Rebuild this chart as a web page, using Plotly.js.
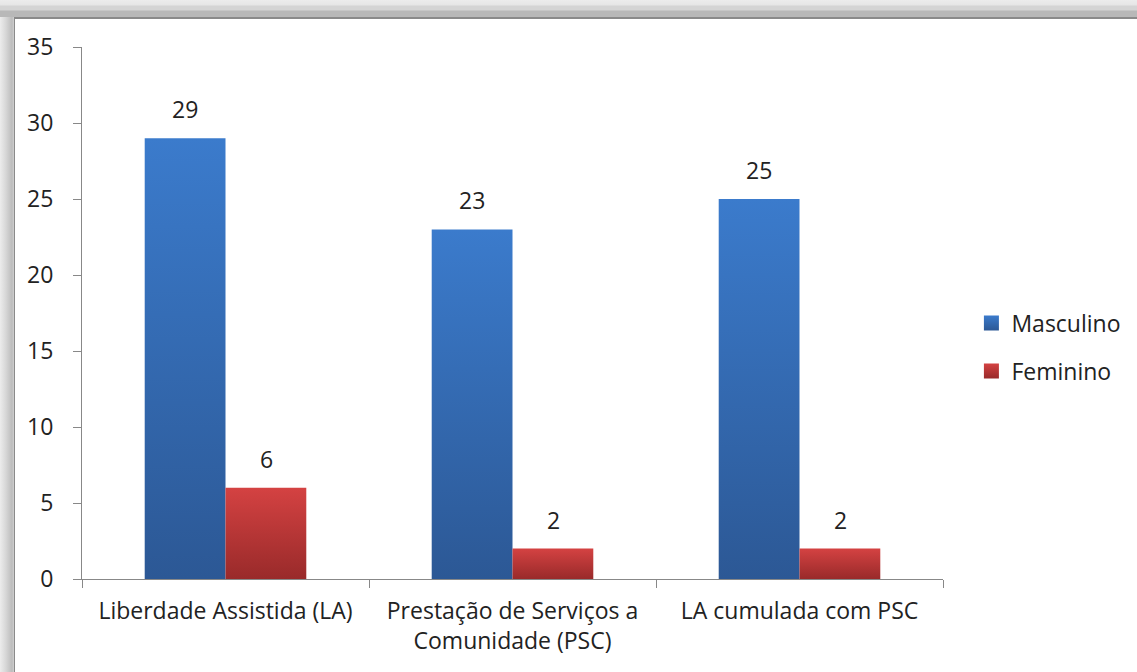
<!DOCTYPE html>
<html>
<head>
<meta charset="utf-8">
<script src="https://cdn.plot.ly/plotly-3.0.1.min.js"></script>
<style>
  body { margin: 0; }
  #frame {
    position: relative; width: 1137px; height: 672px; overflow: hidden;
    background: linear-gradient(to right, #ececec 0px, #d6d6d6 6px, #bcbcbc 12px, #d0d0d0 14px);
  }
  #topband {
    position: absolute; left: 0; top: 0; width: 1137px; height: 17px;
    background: linear-gradient(to bottom, #ececec 0px, #e6e6e6 5px, #d4d4d4 6px, #d4d4d4 10px, #b8b8b8 11px, #b8b8b8 16px);
  }
  #chart {
    position: absolute; left: 14px; top: 17px; width: 1123px; height: 655px;
    background: #fff; border-left: 1px solid #8a8a8a; border-top: 2px solid #8a8a8a;
  }
</style>
</head>
<body>
<div id="frame">
  <div id="topband"></div>
  <div id="chart"></div>
</div>
<script>
const categories = ["Liberdade Assistida (LA)", "Prestação de Serviços a<br>Comunidade (PSC)", "LA cumulada com PSC"];
const masculino = [29, 23, 25];
const feminino = [6, 2, 2];

const font = { family: "Open Sans, sans-serif", size: 23, color: "#222" };

const traceMasc = {
	type: "bar", name: "Masculino", x: categories, y: masculino,
	marker: { color: "#3467ad" }, legendgroup: "m",
};
const traceFem = {
	type: "bar", name: "Feminino", x: categories, y: feminino,
	marker: { color: "#b83535" }, legendgroup: "f",
};

// value labels above each bar
const labels = [];
categories.forEach((c, i) => {
	labels.push({ x: c, y: masculino[i], text: String(masculino[i]), xshift: -40.5 });
	labels.push({ x: c, y: feminino[i], text: String(feminino[i]), xshift: 40.5 });
});
const annotations = labels.map((a) => ({
	...a, xref: "x", yref: "y", showarrow: false, yanchor: "bottom", yshift: 11, font: font,
}));

const layout = {
	width: 1123, height: 653,
	margin: { l: 67, r: 189, t: 28, b: 93 },
	paper_bgcolor: "rgba(0,0,0,0)", plot_bgcolor: "rgba(0,0,0,0)",
	font: font,
	barmode: "group", bargap: 0.437, bargroupgap: 0,
	showlegend: true,
	annotations: annotations,
	legend: {
		x: 1.033, y: 0.436, xanchor: "left", yanchor: "middle",
		font: font, traceorder: "grouped", tracegroupgap: 15, itemwidth: 30,
	},
	xaxis: {
		showline: true, linecolor: "#888", linewidth: 1, automargin: false, tickangle: 0,
		ticks: "outside", tickson: "boundaries", ticklen: 8, tickcolor: "#888",
		tickfont: font, ticklabelstandoff: 11, fixedrange: true,
	},
	yaxis: {
		range: [0, 35], dtick: 5, showgrid: false, zeroline: false, automargin: false,
		showline: true, linecolor: "#888", linewidth: 1,
		ticks: "outside", ticklen: 8, tickcolor: "#888",
		tickfont: font, ticklabelstandoff: 15, fixedrange: true,
	},
};

Plotly.newPlot("chart", [traceMasc, traceFem], layout, { displayModeBar: false, staticPlot: true }).then(() => {
	const svg = document.querySelector("#chart .main-svg");
	const ns = "http://www.w3.org/2000/svg";
	let defs = svg.querySelector("defs");
	const grads = { gBlue: ["#3b7bcc", "#2c5895"], gRed: ["#d44242", "#992a2a"] };
	Object.keys(grads).forEach((id) => {
		const g = document.createElementNS(ns, "linearGradient");
		g.setAttribute("id", id);
		g.setAttribute("x1", "0"); g.setAttribute("y1", "0");
		g.setAttribute("x2", "0"); g.setAttribute("y2", "1");
		grads[id].forEach((c, i) => {
			const s = document.createElementNS(ns, "stop");
			s.setAttribute("offset", i === 0 ? "0" : "1");
			s.setAttribute("stop-color", c);
			g.appendChild(s);
		});
		defs.appendChild(g);
	});
	const traces = svg.querySelectorAll(".barlayer .trace");
	traces.forEach((t, i) => {
		t.querySelectorAll("path").forEach((p) => {
			p.style.fill = i === 0 ? "url(#gBlue)" : "url(#gRed)";
		});
	});
	const legendPoints = document.querySelectorAll("#chart .legend .traces");
	legendPoints.forEach((t, i) => {
		t.querySelectorAll(".legendpoints path").forEach((p) => {
			p.setAttribute("d", "M-7.5,-7.5h15v15h-15z");
			p.style.fill = i === 0 ? "url(#gBlue)" : "url(#gRed)";
		});
	});
});
</script>
</body>
</html>
